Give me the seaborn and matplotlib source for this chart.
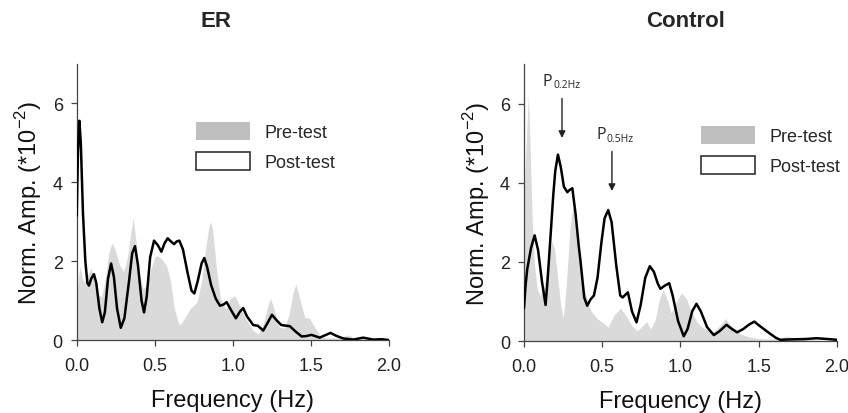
import numpy as np
import pandas as pd
import seaborn as sns
import matplotlib.pyplot as plt
from matplotlib.patches import Patch

# ER panel
er_post_f = [0.000, 0.008, 0.017, 0.026, 0.040, 0.055, 0.068, 0.078, 0.092, 0.110, 0.125, 0.145, 0.163, 0.180,
             0.200, 0.220, 0.238, 0.258, 0.282, 0.305, 0.335, 0.355, 0.373, 0.392, 0.415, 0.431, 0.448, 0.470,
             0.495, 0.520, 0.542, 0.562, 0.582, 0.603, 0.623, 0.640, 0.657, 0.680, 0.710, 0.735, 0.753, 0.775,
             0.800, 0.817, 0.835, 0.860, 0.890, 0.917, 0.940, 0.960, 0.985, 1.019, 1.045, 1.066, 1.090, 1.130,
             1.160, 1.194, 1.220, 1.250, 1.280, 1.310, 1.365, 1.400, 1.440, 1.470, 1.503, 1.556, 1.590, 1.625,
             1.660, 1.706, 1.770, 1.834, 1.900, 1.950, 2.000]
er_post_a = [3.15, 4.80, 5.56, 5.00, 3.20, 2.00, 1.45, 1.38, 1.55, 1.67, 1.45, 0.80, 0.45, 0.70,
             1.55, 1.94, 1.60, 0.80, 0.31, 0.55, 1.50, 2.20, 2.38, 1.90, 1.00, 0.70, 1.10, 2.10,
             2.52, 2.40, 2.24, 2.45, 2.58, 2.50, 2.43, 2.50, 2.52, 2.30, 1.70, 1.25, 1.18, 1.50,
             1.95, 2.08, 1.85, 1.40, 1.05, 0.87, 0.90, 0.96, 0.78, 0.55, 0.72, 0.81, 0.60, 0.38,
             0.36, 0.24, 0.42, 0.64, 0.50, 0.38, 0.35, 0.22, 0.09, 0.10, 0.13, 0.06, 0.12, 0.18,
             0.11, 0.04, 0.01, 0.06, 0.01, 0.02, 0.00]
er_pre_f = [0.000, 0.010, 0.020, 0.035, 0.048, 0.070, 0.092, 0.110, 0.135, 0.160, 0.185, 0.205, 0.225, 0.245,
            0.275, 0.300, 0.325, 0.345, 0.362, 0.380, 0.400, 0.425, 0.450, 0.475, 0.500, 0.516, 0.545, 0.576,
            0.600, 0.625, 0.648, 0.662, 0.690, 0.725, 0.770, 0.800, 0.825, 0.845, 0.857, 0.870, 0.895, 0.920,
            0.955, 0.985, 1.013, 1.040, 1.080, 1.130, 1.162, 1.195, 1.222, 1.241, 1.262, 1.290, 1.300, 1.330,
            1.360, 1.385, 1.403, 1.425, 1.460, 1.490, 1.520, 1.567, 1.620, 1.680, 1.740, 1.780, 1.850, 2.000]
er_pre_a = [1.12, 1.55, 1.87, 1.60, 1.46, 1.65, 1.82, 1.55, 1.15, 1.10, 1.60, 2.20, 2.47, 2.30,
            1.90, 1.74, 2.10, 2.70, 3.09, 2.50, 1.70, 1.30, 1.40, 1.80, 2.10, 2.14, 2.05, 1.88,
            1.50, 0.80, 0.46, 0.38, 0.55, 0.79, 0.96, 1.50, 2.30, 2.85, 3.00, 2.80, 1.80, 1.05,
            0.79, 1.05, 1.12, 0.90, 0.55, 0.24, 0.15, 0.40, 0.85, 1.06, 0.80, 0.40, 0.32, 0.30,
            0.65, 1.20, 1.42, 1.10, 0.57, 0.55, 0.35, 0.07, 0.05, 0.06, 0.13, 0.05, 0.02, 0.00]

# Control panel
ct_post_f = [0.000, 0.010, 0.021, 0.045, 0.068, 0.090, 0.115, 0.138, 0.150, 0.170, 0.187, 0.200, 0.217, 0.235,
             0.255, 0.277, 0.292, 0.309, 0.330, 0.350, 0.362, 0.385, 0.404, 0.425, 0.447, 0.470, 0.495, 0.515,
             0.538, 0.560, 0.590, 0.615, 0.630, 0.664, 0.690, 0.719, 0.745, 0.775, 0.804, 0.830, 0.855, 0.872,
             0.900, 0.928, 0.950, 0.985, 1.021, 1.045, 1.075, 1.102, 1.130, 1.170, 1.213, 1.250, 1.294, 1.330,
             1.362, 1.400, 1.440, 1.472, 1.500, 1.540, 1.574, 1.610, 1.638, 1.700, 1.800, 1.870, 1.940, 2.000]
ct_post_a = [0.83, 1.40, 1.82, 2.35, 2.67, 2.30, 1.50, 0.91, 1.50, 2.67, 3.68, 4.30, 4.71, 4.40,
             3.90, 3.76, 3.82, 3.86, 3.20, 2.40, 1.99, 1.10, 0.89, 1.05, 1.15, 1.60, 2.50, 3.10,
             3.31, 3.00, 1.90, 1.15, 1.10, 1.23, 0.75, 0.47, 0.90, 1.60, 1.89, 1.75, 1.45, 1.32,
             1.40, 1.46, 1.15, 0.50, 0.12, 0.30, 0.75, 0.94, 0.75, 0.35, 0.15, 0.25, 0.41, 0.30,
             0.22, 0.30, 0.42, 0.49, 0.40, 0.28, 0.18, 0.08, 0.03, 0.04, 0.05, 0.07, 0.05, 0.03]
ct_pre_f = [0.000, 0.012, 0.028, 0.040, 0.053, 0.068, 0.085, 0.105, 0.130, 0.155, 0.177, 0.195, 0.215, 0.235,
            0.251, 0.270, 0.295, 0.319, 0.340, 0.360, 0.383, 0.426, 0.468, 0.500, 0.538, 0.575, 0.617, 0.650,
            0.690, 0.723, 0.750, 0.783, 0.809, 0.840, 0.865, 0.889, 0.915, 0.940, 0.970, 1.000, 1.011, 1.040,
            1.070, 1.106, 1.150, 1.210, 1.250, 1.287, 1.320, 1.383, 1.440, 1.490, 1.560, 1.620, 1.680, 1.740,
            1.800, 2.000]
ct_pre_a = [3.50, 4.80, 6.23, 4.80, 3.00, 1.90, 1.30, 1.15, 1.40, 2.10, 2.51, 2.35, 1.60, 0.90,
            0.57, 1.40, 2.90, 3.60, 2.70, 1.90, 1.32, 0.77, 0.56, 0.48, 0.35, 0.65, 0.83, 0.65,
            0.38, 0.26, 0.35, 0.49, 0.30, 0.55, 1.05, 1.30, 1.05, 0.71, 0.95, 1.18, 1.20, 1.05,
            0.75, 0.47, 0.32, 0.22, 0.38, 0.57, 0.40, 0.18, 0.10, 0.07, 0.05, 0.06, 0.12, 0.06,
            0.03, 0.00]

titles = ["ER", "Control"]
legend_labels = ["Pre-test", "Post-test"]
xticks = [0.0, 0.5, 1.0, 1.5, 2.0]
yticks = [0, 2, 4, 6]

sns.set_style("ticks")
plt.rcParams['font.family'] = ['Liberation Sans', 'DejaVu Sans']
plt.rcParams['mathtext.fontset'] = 'custom'
plt.rcParams['mathtext.rm'] = 'Liberation Sans'

fig = plt.figure(figsize=(8.48, 4.14), dpi=100)
ax1 = fig.add_axes([0.0905, 0.1763, 0.3683, 0.6667])
ax2 = fig.add_axes([0.6179, 0.1739, 0.3691, 0.6691])

panels = [
    (ax1, er_pre_f, er_pre_a, er_post_f, er_post_a, 0.446, (0.382, 0.79)),
    (ax2, ct_pre_f, ct_pre_a, ct_post_f, ct_post_a, 0.515, (0.565, 0.775)),
]

for i, (ax, pf, pa, qf, qa, tx, lpos) in enumerate(panels):
    ax.fill_between(pf, 0, pa, color='#dadada', lw=0, zorder=1)
    df = pd.DataFrame({"f": qf, "a": qa})
    sns.lineplot(data=df, x="f", y="a", ax=ax, color='black', lw=1.8, zorder=3)
    ax.set_xlim(0, 2.0)
    ax.set_ylim(0, 7)
    ax.set_xticks(xticks)
    ax.set_xticklabels([f"{t:.1f}" for t in xticks])
    ax.set_yticks(yticks)
    ax.tick_params(labelsize=13, length=4, width=0.9, color='#444444', labelcolor='#222222', pad=6)
    ax.tick_params(axis='x', pad=8)
    for s in ["left", "bottom"]:
        ax.spines[s].set_color('#444444')
        ax.spines[s].set_linewidth(0.9)
    sns.despine(ax=ax)
    ax.set_xlabel("Frequency (Hz)", fontsize=17, labelpad=11, color='#111111')
    ax.set_ylabel(r"Norm. Amp. (*10$^{\mathregular{-2}}$)", fontsize=17, labelpad=6, color='#111111')
    ax.text(tx, 1.156, titles[i], transform=ax.transAxes, ha='center', va='center',
            fontsize=16, fontweight='bold')
    handles = [Patch(facecolor='#bfbfbf', edgecolor='none'),
               Patch(facecolor='white', edgecolor='#333333', lw=1.2)]
    ax.legend(handles, legend_labels, loc='upper left', bbox_to_anchor=lpos, frameon=False,
              fontsize=13, handlelength=3.0, handleheight=1.15, labelspacing=0.6,
              handletextpad=0.8, borderpad=0, borderaxespad=0)

# peak markers on the Control panel
arrow_kw = dict(arrowstyle='-|>', color='#222222', lw=1.0, mutation_scale=10)
ax2.annotate('', xy=(0.243, 5.06), xytext=(0.243, 6.2), arrowprops=arrow_kw)
ax2.annotate('', xy=(0.562, 3.72), xytext=(0.562, 4.86), arrowprops=arrow_kw)
ax2.text(0.121, 6.58, "P", fontsize=11.5, family='Open Sans', va='center', ha='left')
ax2.text(0.186, 6.47, "0.2Hz", fontsize=7.5, family='Open Sans', va='center', ha='left')
ax2.text(0.466, 5.22, "P", fontsize=11.5, family='Open Sans', va='center', ha='left')
ax2.text(0.530, 5.11, "0.5Hz", fontsize=7.5, family='Open Sans', va='center', ha='left')

fig.savefig("out.png", dpi=100)
